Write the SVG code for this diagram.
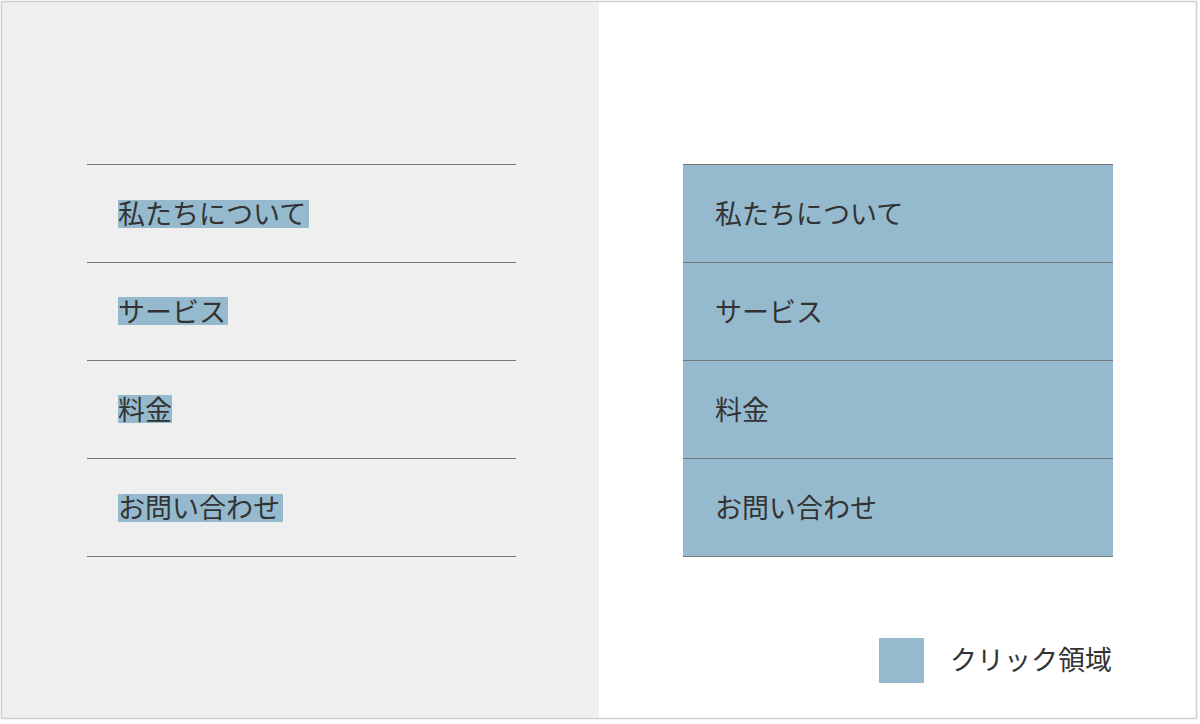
<svg xmlns="http://www.w3.org/2000/svg" width="1200" height="724" viewBox="0 0 1200 724">
<style>
.t{font-family:"Noto Sans CJK JP","Noto Sans",sans-serif;font-size:27px;fill:#333}
.sep{stroke:#777;stroke-width:1.2}
.hl{fill:#95bace}
</style>
<rect x="0" y="0" width="1200" height="724" fill="#fff"/>
<rect x="2" y="2" width="597" height="716" fill="#efefef"/>
<rect x="1.5" y="1.5" width="1195" height="717" fill="none" stroke="#cfcfcf" stroke-width="1.5"/>
<g id="left-menu">
<rect class="hl" x="118" y="200" width="191" height="28"/>
<rect class="hl" x="118" y="297" width="110" height="28"/>
<rect class="hl" x="118" y="395" width="54" height="28"/>
<rect class="hl" x="118" y="494" width="165" height="28"/>
<text class="t" x="118" y="224">私たちについて</text>
<text class="t" x="118" y="322">サービス</text>
<text class="t" x="118" y="420">料金</text>
<text class="t" x="118" y="518">お問い合わせ</text>
</g>
<g id="right-menu">
<rect class="hl" x="683" y="164" width="430" height="392"/>
<text class="t" x="715" y="224">私たちについて</text>
<text class="t" x="715" y="322">サービス</text>
<text class="t" x="715" y="420">料金</text>
<text class="t" x="715" y="518">お問い合わせ</text>
</g>
<g id="separators">
<line class="sep" x1="87" y1="164.5" x2="516" y2="164.5"/>
<line class="sep" x1="87" y1="262.5" x2="516" y2="262.5"/>
<line class="sep" x1="87" y1="360.5" x2="516" y2="360.5"/>
<line class="sep" x1="87" y1="458.5" x2="516" y2="458.5"/>
<line class="sep" x1="87" y1="556.5" x2="516" y2="556.5"/>
<line class="sep" x1="683" y1="164.5" x2="1113" y2="164.5"/>
<line class="sep" x1="683" y1="262.5" x2="1113" y2="262.5"/>
<line class="sep" x1="683" y1="360.5" x2="1113" y2="360.5"/>
<line class="sep" x1="683" y1="458.5" x2="1113" y2="458.5"/>
<line class="sep" x1="683" y1="556.5" x2="1113" y2="556.5"/>
</g>
<g id="legend">
<rect class="hl" x="879" y="638" width="45" height="45"/>
<text class="t" x="950" y="670">クリック領域</text>
</g>
</svg>
